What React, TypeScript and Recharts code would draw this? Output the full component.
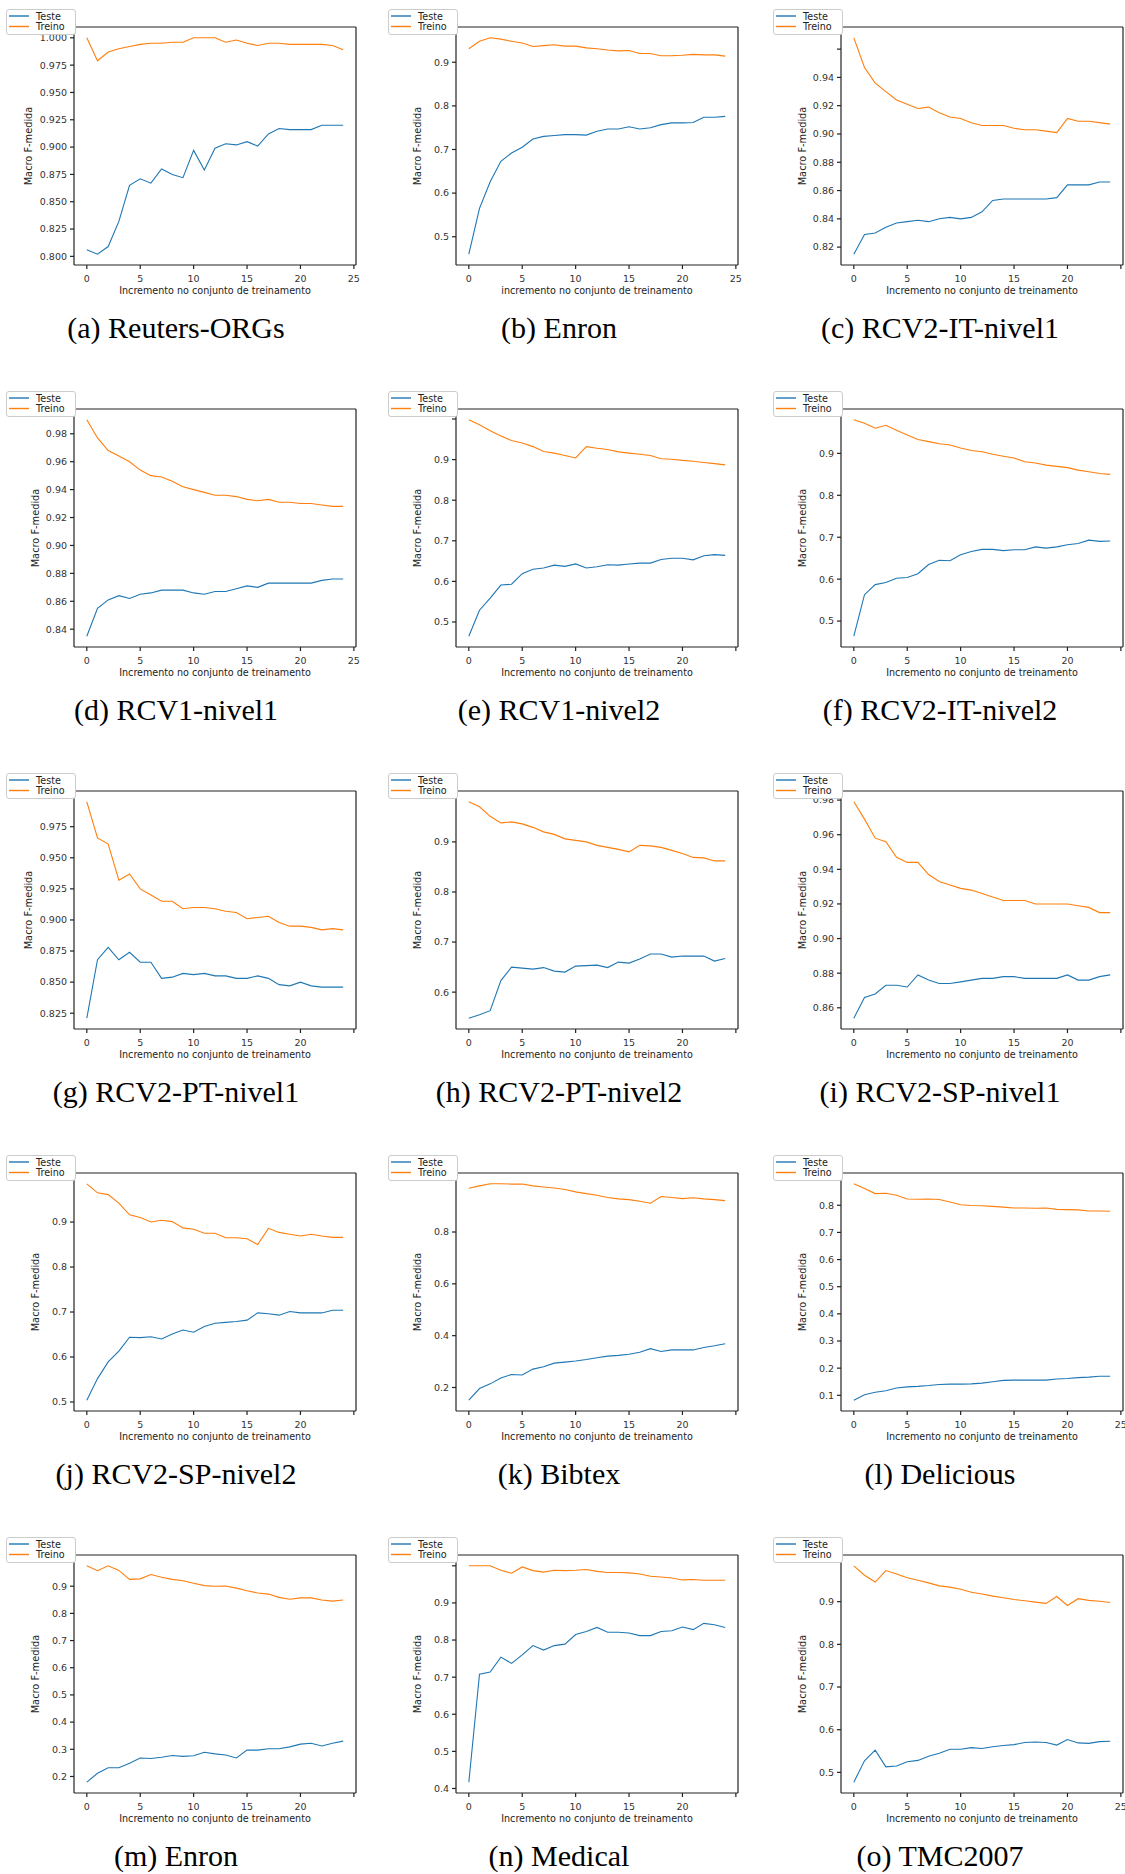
import React from 'react';
import { LineChart, Line, XAxis, YAxis, ReferenceLine } from 'recharts';

const FONT = '"DejaVu Sans", Verdana, sans-serif';
const BLUE = '#1f77b4';
const ORANGE = '#ff7f0e';

// x axis: training-set increments
const increments = [0, 1, 2, 3, 4, 5, 6, 7, 8, 9, 10, 11, 12, 13, 14, 15, 16, 17, 18, 19, 20, 21, 22, 23, 24];
const xTicks = [0, 5, 10, 15, 20, 25];

// (a) Reuters-ORGs
const reutersTeste = [0.806, 0.802, 0.809, 0.832, 0.865, 0.871, 0.867, 0.880, 0.875, 0.872, 0.897, 0.879, 0.899, 0.903, 0.902, 0.905, 0.901, 0.912, 0.917, 0.916, 0.916, 0.916, 0.920, 0.920, 0.920];
const reutersTreino = [1.000, 0.979, 0.987, 0.990, 0.992, 0.994, 0.995, 0.995, 0.996, 0.996, 1.000, 1.000, 1.000, 0.996, 0.998, 0.995, 0.993, 0.995, 0.995, 0.994, 0.994, 0.994, 0.994, 0.993, 0.989];
const reutersTicks = [0.800, 0.825, 0.850, 0.875, 0.900, 0.925, 0.950, 0.975, 1.000];

// (b) Enron
const enronTeste = [0.460, 0.565, 0.626, 0.673, 0.692, 0.705, 0.724, 0.730, 0.732, 0.734, 0.734, 0.733, 0.742, 0.747, 0.747, 0.752, 0.747, 0.750, 0.757, 0.761, 0.761, 0.762, 0.774, 0.774, 0.776];
const enronTreino = [0.931, 0.948, 0.956, 0.953, 0.948, 0.944, 0.936, 0.938, 0.940, 0.937, 0.937, 0.933, 0.931, 0.928, 0.926, 0.927, 0.920, 0.920, 0.915, 0.915, 0.916, 0.918, 0.917, 0.917, 0.914];
const enronTicks = [0.5, 0.6, 0.7, 0.8, 0.9];

// (c) RCV2-IT-nivel1
const rcv2ItN1Teste = [0.815, 0.829, 0.830, 0.834, 0.837, 0.838, 0.839, 0.838, 0.840, 0.841, 0.840, 0.841, 0.845, 0.853, 0.854, 0.854, 0.854, 0.854, 0.854, 0.855, 0.864, 0.864, 0.864, 0.866, 0.866];
const rcv2ItN1Treino = [0.968, 0.947, 0.936, 0.930, 0.924, 0.921, 0.918, 0.919, 0.915, 0.912, 0.911, 0.908, 0.906, 0.906, 0.906, 0.904, 0.903, 0.903, 0.902, 0.901, 0.911, 0.909, 0.909, 0.908, 0.907];
const rcv2ItN1Ticks = [0.82, 0.84, 0.86, 0.88, 0.90, 0.92, 0.94, 0.96];

// (d) RCV1-nivel1
const rcv1N1Teste = [0.835, 0.855, 0.861, 0.864, 0.862, 0.865, 0.866, 0.868, 0.868, 0.868, 0.866, 0.865, 0.867, 0.867, 0.869, 0.871, 0.870, 0.873, 0.873, 0.873, 0.873, 0.873, 0.875, 0.876, 0.876];
const rcv1N1Treino = [0.990, 0.977, 0.968, 0.964, 0.960, 0.954, 0.950, 0.949, 0.946, 0.942, 0.940, 0.938, 0.936, 0.936, 0.935, 0.933, 0.932, 0.933, 0.931, 0.931, 0.930, 0.930, 0.929, 0.928, 0.928];
const rcv1N1Ticks = [0.84, 0.86, 0.88, 0.90, 0.92, 0.94, 0.96, 0.98];

// (e) RCV1-nivel2
const rcv1N2Teste = [0.465, 0.529, 0.559, 0.591, 0.593, 0.619, 0.630, 0.633, 0.640, 0.637, 0.643, 0.633, 0.636, 0.641, 0.640, 0.643, 0.645, 0.645, 0.654, 0.657, 0.657, 0.653, 0.663, 0.666, 0.664];
const rcv1N2Treino = [0.998, 0.986, 0.971, 0.958, 0.947, 0.941, 0.932, 0.920, 0.916, 0.910, 0.904, 0.932, 0.928, 0.925, 0.919, 0.916, 0.913, 0.910, 0.902, 0.901, 0.898, 0.896, 0.893, 0.890, 0.887];
const rcv1N2Ticks = [0.5, 0.6, 0.7, 0.8, 0.9, 1.0];

// (f) RCV2-IT-nivel2
const rcv2ItN2Teste = [0.464, 0.563, 0.587, 0.592, 0.602, 0.604, 0.613, 0.635, 0.645, 0.644, 0.658, 0.666, 0.671, 0.671, 0.668, 0.670, 0.670, 0.677, 0.674, 0.677, 0.682, 0.685, 0.693, 0.690, 0.691];
const rcv2ItN2Treino = [0.980, 0.972, 0.960, 0.967, 0.955, 0.944, 0.933, 0.928, 0.923, 0.920, 0.913, 0.907, 0.904, 0.898, 0.893, 0.889, 0.880, 0.877, 0.872, 0.869, 0.866, 0.860, 0.856, 0.852, 0.850];
const rcv2ItN2Ticks = [0.5, 0.6, 0.7, 0.8, 0.9];

// (g) RCV2-PT-nivel1
const rcv2PtN1Teste = [0.821, 0.868, 0.878, 0.868, 0.874, 0.866, 0.866, 0.853, 0.854, 0.857, 0.856, 0.857, 0.855, 0.855, 0.853, 0.853, 0.855, 0.853, 0.848, 0.847, 0.850, 0.847, 0.846, 0.846, 0.846];
const rcv2PtN1Treino = [0.995, 0.966, 0.961, 0.932, 0.937, 0.925, 0.920, 0.915, 0.915, 0.909, 0.910, 0.910, 0.909, 0.907, 0.906, 0.901, 0.902, 0.903, 0.898, 0.895, 0.895, 0.894, 0.892, 0.893, 0.892];
const rcv2PtN1Ticks = [0.825, 0.850, 0.875, 0.900, 0.925, 0.950, 0.975];

// (h) RCV2-PT-nivel2
const rcv2PtN2Teste = [0.548, 0.555, 0.563, 0.623, 0.650, 0.648, 0.646, 0.649, 0.642, 0.640, 0.652, 0.653, 0.654, 0.649, 0.660, 0.658, 0.666, 0.676, 0.676, 0.670, 0.672, 0.672, 0.672, 0.662, 0.667];
const rcv2PtN2Treino = [0.980, 0.970, 0.951, 0.938, 0.940, 0.936, 0.929, 0.920, 0.915, 0.906, 0.903, 0.900, 0.893, 0.889, 0.885, 0.880, 0.893, 0.892, 0.889, 0.883, 0.877, 0.869, 0.868, 0.862, 0.862];
const rcv2PtN2Ticks = [0.6, 0.7, 0.8, 0.9];

// (i) RCV2-SP-nivel1
const rcv2SpN1Teste = [0.854, 0.866, 0.868, 0.873, 0.873, 0.872, 0.879, 0.876, 0.874, 0.874, 0.875, 0.876, 0.877, 0.877, 0.878, 0.878, 0.877, 0.877, 0.877, 0.877, 0.879, 0.876, 0.876, 0.878, 0.879];
const rcv2SpN1Treino = [0.979, 0.969, 0.958, 0.956, 0.947, 0.944, 0.944, 0.937, 0.933, 0.931, 0.929, 0.928, 0.926, 0.924, 0.922, 0.922, 0.922, 0.920, 0.920, 0.920, 0.920, 0.919, 0.918, 0.915, 0.915];
const rcv2SpN1Ticks = [0.86, 0.88, 0.90, 0.92, 0.94, 0.96, 0.98];

// (j) RCV2-SP-nivel2
const rcv2SpN2Teste = [0.504, 0.552, 0.589, 0.613, 0.644, 0.643, 0.645, 0.640, 0.651, 0.660, 0.655, 0.668, 0.675, 0.677, 0.679, 0.682, 0.698, 0.696, 0.693, 0.701, 0.698, 0.698, 0.698, 0.704, 0.704];
const rcv2SpN2Treino = [0.985, 0.965, 0.961, 0.942, 0.916, 0.910, 0.900, 0.904, 0.901, 0.887, 0.884, 0.875, 0.875, 0.865, 0.865, 0.863, 0.850, 0.886, 0.877, 0.873, 0.869, 0.873, 0.869, 0.866, 0.866];
const rcv2SpN2Ticks = [0.5, 0.6, 0.7, 0.8, 0.9];

// (k) Bibtex
const bibtexTeste = [0.151, 0.196, 0.214, 0.237, 0.250, 0.248, 0.271, 0.280, 0.294, 0.298, 0.302, 0.308, 0.315, 0.321, 0.324, 0.328, 0.336, 0.350, 0.339, 0.345, 0.345, 0.345, 0.354, 0.361, 0.369];
const bibtexTreino = [0.969, 0.978, 0.986, 0.986, 0.985, 0.985, 0.978, 0.974, 0.970, 0.964, 0.955, 0.948, 0.942, 0.933, 0.928, 0.925, 0.919, 0.911, 0.937, 0.933, 0.929, 0.932, 0.928, 0.925, 0.921];
const bibtexTicks = [0.2, 0.4, 0.6, 0.8];

// (l) Delicious
const deliciousTeste = [0.082, 0.102, 0.111, 0.117, 0.127, 0.131, 0.133, 0.136, 0.140, 0.141, 0.141, 0.142, 0.145, 0.150, 0.155, 0.156, 0.156, 0.156, 0.156, 0.160, 0.162, 0.165, 0.167, 0.170, 0.170];
const deliciousTreino = [0.879, 0.862, 0.843, 0.844, 0.837, 0.823, 0.822, 0.823, 0.821, 0.812, 0.802, 0.799, 0.798, 0.796, 0.793, 0.790, 0.790, 0.789, 0.790, 0.785, 0.784, 0.783, 0.779, 0.779, 0.778];
const deliciousTicks = [0.1, 0.2, 0.3, 0.4, 0.5, 0.6, 0.7, 0.8, 0.9];

// (m) Enron
const enronMTeste = [0.179, 0.212, 0.232, 0.232, 0.249, 0.268, 0.266, 0.271, 0.277, 0.274, 0.276, 0.289, 0.283, 0.279, 0.268, 0.297, 0.297, 0.302, 0.302, 0.309, 0.319, 0.322, 0.312, 0.322, 0.330];
const enronMTreino = [0.975, 0.957, 0.975, 0.958, 0.925, 0.927, 0.943, 0.933, 0.925, 0.920, 0.911, 0.902, 0.900, 0.901, 0.893, 0.883, 0.875, 0.871, 0.859, 0.852, 0.857, 0.857, 0.849, 0.845, 0.849];
const enronMTicks = [0.2, 0.3, 0.4, 0.5, 0.6, 0.7, 0.8, 0.9];

// (n) Medical
const medicalTeste = [0.417, 0.708, 0.714, 0.754, 0.737, 0.760, 0.785, 0.773, 0.785, 0.789, 0.815, 0.823, 0.834, 0.821, 0.821, 0.819, 0.812, 0.812, 0.823, 0.825, 0.835, 0.828, 0.845, 0.841, 0.834];
const medicalTreino = [1.000, 1.000, 1.000, 0.988, 0.980, 0.997, 0.987, 0.983, 0.988, 0.987, 0.988, 0.990, 0.985, 0.982, 0.982, 0.981, 0.978, 0.972, 0.970, 0.967, 0.962, 0.963, 0.961, 0.961, 0.961];
const medicalTicks = [0.4, 0.5, 0.6, 0.7, 0.8, 0.9, 1.0];

// (o) TMC2007
const tmcTeste = [0.477, 0.527, 0.552, 0.513, 0.515, 0.525, 0.528, 0.538, 0.545, 0.554, 0.554, 0.558, 0.556, 0.560, 0.563, 0.565, 0.570, 0.571, 0.570, 0.564, 0.577, 0.569, 0.568, 0.572, 0.573];
const tmcTreino = [0.984, 0.962, 0.946, 0.973, 0.965, 0.956, 0.950, 0.944, 0.937, 0.934, 0.929, 0.922, 0.918, 0.913, 0.909, 0.905, 0.902, 0.899, 0.896, 0.912, 0.891, 0.907, 0.903, 0.901, 0.898];
const tmcTicks = [0.5, 0.6, 0.7, 0.8, 0.9];

const X_LABEL = 'Incremento no conjunto de treinamento';

interface PanelDef {
  caption: string;
  teste: number[];
  treino: number[];
  ticks: number[];
  dec: number;
  hidden?: number[];
  show25: boolean;
  xLabel: string;
}

const panels: PanelDef[] = [
  { caption: '(a) Reuters-ORGs', teste: reutersTeste, treino: reutersTreino, ticks: reutersTicks, dec: 3, show25: true, xLabel: X_LABEL },
  { caption: '(b) Enron', teste: enronTeste, treino: enronTreino, ticks: enronTicks, dec: 1, show25: true, xLabel: 'incremento no conjunto de treinamento' },
  { caption: '(c) RCV2-IT-nivel1', teste: rcv2ItN1Teste, treino: rcv2ItN1Treino, ticks: rcv2ItN1Ticks, dec: 2, hidden: [0.96], show25: false, xLabel: X_LABEL },
  { caption: '(d) RCV1-nivel1', teste: rcv1N1Teste, treino: rcv1N1Treino, ticks: rcv1N1Ticks, dec: 2, show25: true, xLabel: X_LABEL },
  { caption: '(e) RCV1-nivel2', teste: rcv1N2Teste, treino: rcv1N2Treino, ticks: rcv1N2Ticks, dec: 1, hidden: [1.0], show25: false, xLabel: X_LABEL },
  { caption: '(f) RCV2-IT-nivel2', teste: rcv2ItN2Teste, treino: rcv2ItN2Treino, ticks: rcv2ItN2Ticks, dec: 1, show25: false, xLabel: X_LABEL },
  { caption: '(g) RCV2-PT-nivel1', teste: rcv2PtN1Teste, treino: rcv2PtN1Treino, ticks: rcv2PtN1Ticks, dec: 3, show25: false, xLabel: X_LABEL },
  { caption: '(h) RCV2-PT-nivel2', teste: rcv2PtN2Teste, treino: rcv2PtN2Treino, ticks: rcv2PtN2Ticks, dec: 1, show25: false, xLabel: X_LABEL },
  { caption: '(i) RCV2-SP-nivel1', teste: rcv2SpN1Teste, treino: rcv2SpN1Treino, ticks: rcv2SpN1Ticks, dec: 2, show25: false, xLabel: X_LABEL },
  { caption: '(j) RCV2-SP-nivel2', teste: rcv2SpN2Teste, treino: rcv2SpN2Treino, ticks: rcv2SpN2Ticks, dec: 1, show25: false, xLabel: X_LABEL },
  { caption: '(k) Bibtex', teste: bibtexTeste, treino: bibtexTreino, ticks: bibtexTicks, dec: 1, show25: false, xLabel: X_LABEL },
  { caption: '(l) Delicious', teste: deliciousTeste, treino: deliciousTreino, ticks: deliciousTicks, dec: 1, show25: true, xLabel: X_LABEL },
  { caption: '(m) Enron', teste: enronMTeste, treino: enronMTreino, ticks: enronMTicks, dec: 1, show25: false, xLabel: X_LABEL },
  { caption: '(n) Medical', teste: medicalTeste, treino: medicalTreino, ticks: medicalTicks, dec: 1, hidden: [1.0], show25: false, xLabel: X_LABEL },
  { caption: '(o) TMC2007', teste: tmcTeste, treino: tmcTreino, ticks: tmcTicks, dec: 1, show25: true, xLabel: X_LABEL },
];

// layout of the 3x5 grid (page pixels)
const COL_LEFT = [74, 456, 841];
const COL_CENTER = [176, 559, 940];
const ROW_TOP = 27;
const ROW_STEP = 382;
const PW = 282;
const PH = 238;

// matplotlib-like autoscale: 5% margin on each side
function autoDomain(a: number[], b: number[]): [number, number] {
  const all = [...a, ...b];
  const lo = Math.min(...all);
  const hi = Math.max(...all);
  const pad = (hi - lo) * 0.05;
  return [lo - pad, hi + pad];
}

const Legend = ({ left, top }: { left: number; top: number }) => (
  <div
    style={{
      position: 'absolute', left, top, width: 70, height: 26, boxSizing: 'border-box',
      background: '#fff', border: '1px solid #ccc', borderRadius: 3,
    }}
  >
    <svg width={68} height={24} style={{ position: 'absolute', left: 0, top: 0 }}>
      <line x1={2} x2={22} y1={6} y2={6} stroke={BLUE} strokeWidth={1.4} />
      <line x1={2} x2={22} y1={16.5} y2={16.5} stroke={ORANGE} strokeWidth={1.4} />
      <text x={29} y={6} dominantBaseline="central" fontFamily={FONT} fontSize={9.6} fill="#222">Teste</text>
      <text x={29} y={16.5} dominantBaseline="central" fontFamily={FONT} fontSize={9.6} fill="#222">Treino</text>
    </svg>
  </div>
);

const Panel = ({ p, idx }: { p: PanelDef; idx: number }) => {
  const col = idx % 3;
  const row = Math.floor(idx / 3);
  const plotLeft = COL_LEFT[col];
  const plotTop = ROW_TOP + ROW_STEP * row;
  const L = 70, T = 10, B = 44, R = 14;
  const [lo, hi] = autoDomain(p.teste, p.treino);
  const data = increments.map((x, i) => ({ x, teste: p.teste[i], treino: p.treino[i] }));
  const hidden = p.hidden || [];
  const yOff = p.dec === 3 ? 45 : 38;
  const tickStyle = { fontSize: 9.5, fill: '#333', fontFamily: FONT };
  const spine = { stroke: '#222', strokeWidth: 1.2 };

  return (
    <>
      <div style={{ position: 'absolute', left: plotLeft - L, top: plotTop - T }}>
        <LineChart width={L + PW + R} height={T + PH + B} data={data} margin={{ top: T, right: R, bottom: 0, left: 0 }}>
          <XAxis
            dataKey="x" type="number" domain={[-1.2, 25.2]} ticks={xTicks} allowDataOverflow
            height={B} tickSize={4} tickMargin={6} tick={tickStyle}
            tickLine={spine} axisLine={spine}
            tickFormatter={(v: number) => (v === 25 && !p.show25 ? '' : String(v))}
            label={{ value: p.xLabel, position: 'insideBottom', offset: 15, style: { fontSize: 9.6, fill: '#222', fontFamily: FONT } }}
          />
          <YAxis
            type="number" domain={[lo, hi]} ticks={p.ticks} allowDataOverflow
            width={L} tickSize={4} tickMargin={3} tick={tickStyle}
            tickLine={spine} axisLine={spine}
            tickFormatter={(v: number) => (hidden.some((h) => Math.abs(h - v) < 1e-9) ? '' : v.toFixed(p.dec))}
            label={{ value: 'Macro F-medida', angle: -90, position: 'insideLeft', offset: L - yOff, style: { textAnchor: 'middle', fontSize: 9.8, fill: '#222', fontFamily: FONT } }}
          />
          <ReferenceLine y={hi} stroke="#222" strokeWidth={1.2} />
          <ReferenceLine x={25.2} stroke="#222" strokeWidth={1.2} />
          <Line dataKey="teste" stroke={BLUE} strokeWidth={1.1} dot={false} isAnimationActive={false} />
          <Line dataKey="treino" stroke={ORANGE} strokeWidth={1.1} dot={false} isAnimationActive={false} />
        </LineChart>
      </div>
      <Legend left={plotLeft - 68} top={plotTop - 18} />
      <div
        style={{
          position: 'absolute', left: COL_CENTER[col] - 200, width: 400, top: plotTop + 301 - 14,
          height: 28, lineHeight: '28px', textAlign: 'center', whiteSpace: 'nowrap',
          fontFamily: '"Liberation Serif", "Times New Roman", serif', fontSize: 30, color: '#000',
        }}
      >
        {p.caption}
      </div>
    </>
  );
};

export default function App() {
  return (
    <div style={{ position: 'absolute', left: 0, top: 0, width: 1125, height: 1874, overflow: 'hidden', background: '#fff' }}>
      {panels.map((p, i) => (
        <Panel key={p.caption} p={p} idx={i} />
      ))}
    </div>
  );
}
